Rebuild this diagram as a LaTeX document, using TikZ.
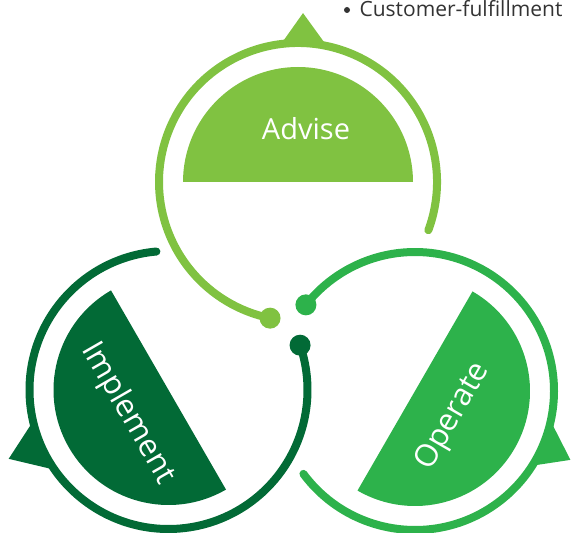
\documentclass[tikz,border=0pt]{standalone}
\usepackage{fontspec}
\setmainfont{Open Sans}
\usepackage{tikz}
\usetikzlibrary{positioning,calc}
\definecolor{advisegreen}{RGB}{128,194,65}
\definecolor{operategreen}{RGB}{45,178,75}
\definecolor{implementgreen}{RGB}{2,106,54}
\definecolor{bullettext}{RGB}{51,51,51}

\begin{document}
\begin{tikzpicture}[x=1pt,y=1pt,
		ring/.style={line width=8pt,line cap=round},
		enddot/.style={circle,inner sep=0pt,minimum size=21pt},
		phase/.style={text=white,inner sep=1pt,font=\fontsize{31}{36}\selectfont}]
	\useasboundingbox (0,0) rectangle (571,533);

	\coordinate (adv) at (298,351);
	\coordinate (imp) at (168.5,143);
	\coordinate (ope) at (415,142);

	% advise
	\fill[advisegreen] ($(adv)+(0:115)$) arc[start angle=0,end angle=180,radius=115pt] -- cycle;
	\draw[ring,advisegreen] ($(adv)+(-20.3:139)$) arc[start angle=-20.3,end angle=258.4,radius=139pt];
	\fill[advisegreen] ($(adv)+(97:139)$) -- ($(adv)+(88.3:169)$) -- ($(adv)+(78:139)$) -- cycle;
	\node[enddot,fill=advisegreen] (advdot) at ($(adv)+(258.4:139)$) {};
	\node[phase,font=\fontsize{29}{34}\selectfont] (advlabel) at ($(adv)+(8,53)$) {Advise};

	% implement
	\fill[implementgreen] ($(imp)+(120:115)$) arc[start angle=120,end angle=300,radius=115pt] -- cycle;
	\draw[ring,implementgreen] ($(imp)+(95:139)$) arc[start angle=95,end angle=378.8,radius=139pt];
	\fill[implementgreen] ($(imp)+(193:139)$) -- ($(imp)+(203.3:174)$) -- ($(imp)+(215:139)$) -- cycle;
	\node[enddot,fill=implementgreen] (impdot) at ($(imp)+(18.8:139)$) {};
	\node[phase,rotate=-60] (implabel) at ($(imp)+(210:47)$) {Implement};

	% operate
	\fill[operategreen] ($(ope)+(-120:115)$) arc[start angle=-120,end angle=60,radius=115pt] -- cycle;
	\draw[ring,operategreen] ($(ope)+(-143.4:139)$) arc[start angle=-143.4,end angle=141.7,radius=139pt];
	\fill[operategreen] ($(ope)+(-12.5:139)$) -- ($(ope)+(-23.9:170)$) -- ($(ope)+(-32.5:139)$) -- cycle;
	\node[enddot,fill=operategreen] (opedot) at ($(ope)+(141.7:139)$) {};
	\node[phase,rotate=60] (opelabel) at ($(ope)+(-34:46)$) {Operate};

	% bullet
	\node[circle,fill=bullettext,inner sep=0pt,minimum size=6pt] (bullet) at (347,523) {};
	\node[anchor=base west,text=bullettext,font=\fontsize{21}{25}\selectfont] (fulfil) at (356,516) {Customer-fulfillment};
\end{tikzpicture}
\end{document}
